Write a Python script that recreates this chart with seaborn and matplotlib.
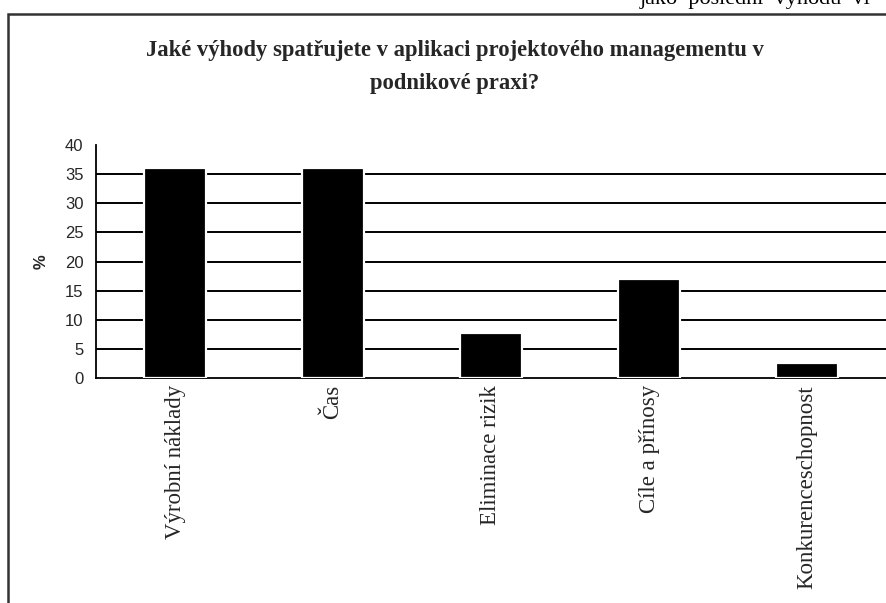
import matplotlib
matplotlib.use("Agg")
import matplotlib.pyplot as plt
import seaborn as sns
import pandas as pd
from matplotlib.patches import Rectangle

categories = ["Výrobní náklady", "Čas", "Eliminace rizik", "Cíle a přínosy", "Konkurenceschopnost"]
values = [36.1, 36.0, 7.7, 17.0, 2.6]
yticks = [0, 5, 10, 15, 20, 25, 30, 35, 40]
title = "Jaké výhody spatřujete v aplikaci projektového managementu v\npodnikové praxi?"
ylabel = "%"
top_text = "jako  poslední  výhodu  vi"

sns.set_style("white")
plt.rcParams["font.family"] = ["Liberation Sans", "DejaVu Sans"]

W, H = 886, 603
fig = plt.figure(figsize=(W / 100, H / 100), dpi=100)
fig.patch.set_facecolor("white")

# page border
fig.patches.append(Rectangle((8 / W, -0.1), 1.2, 1 - 14 / H + 0.1, transform=fig.transFigure,
                             fill=False, edgecolor="#333333", linewidth=1.8))
fig.text(640 / W, 1 - 4 / H, top_text, family="Liberation Serif", fontsize=16,
         ha="left", va="baseline", color="black")

ax = fig.add_axes([96 / W, 1 - 378 / H, 790 / W, 233 / H])
df = pd.DataFrame({"cat": categories, "val": values})
sns.barplot(data=df, x="cat", y="val", color="black", width=0.39, ax=ax,
            edgecolor="white", linewidth=1.6, saturation=1, zorder=3)

ax.set_xlim(-0.5, len(categories) - 0.5)
ax.set_ylim(yticks[0], yticks[-1])
ax.set_yticks(yticks)
ax.set_yticklabels([str(v) for v in yticks], fontsize=12, family="Liberation Sans")
ax.hlines(yticks[1:-1], -0.5, len(categories) - 0.5, colors="black", linewidth=1.4, zorder=1)

ax.set_xticks(range(len(categories)))
ax.set_xticklabels(categories, rotation=90, family="Liberation Serif", fontsize=16.5, va="top")
ax.tick_params(axis="x", length=0, pad=5)
ax.set_xticks([i + 0.5 for i in range(len(categories))], minor=True)
ax.tick_params(axis="x", which="minor", length=5, width=1.3, direction="out", color="black")
ax.tick_params(axis="y", length=6, width=1.3, direction="out", color="black", pad=3)

for s in ["top", "right"]:
    ax.spines[s].set_visible(False)
for s in ["left", "bottom"]:
    ax.spines[s].set_color("black")
    ax.spines[s].set_linewidth(1.3)

ax.set_xlabel("")
ax.set_ylabel(ylabel, fontsize=12, fontweight="bold", labelpad=12)

fig.text(455 / W, 1 - 67 / H, title, family="Liberation Serif", fontweight="bold",
         fontsize=16.3, ha="center", va="center", linespacing=1.8)

fig.savefig("out.png", dpi=100, facecolor="white")
